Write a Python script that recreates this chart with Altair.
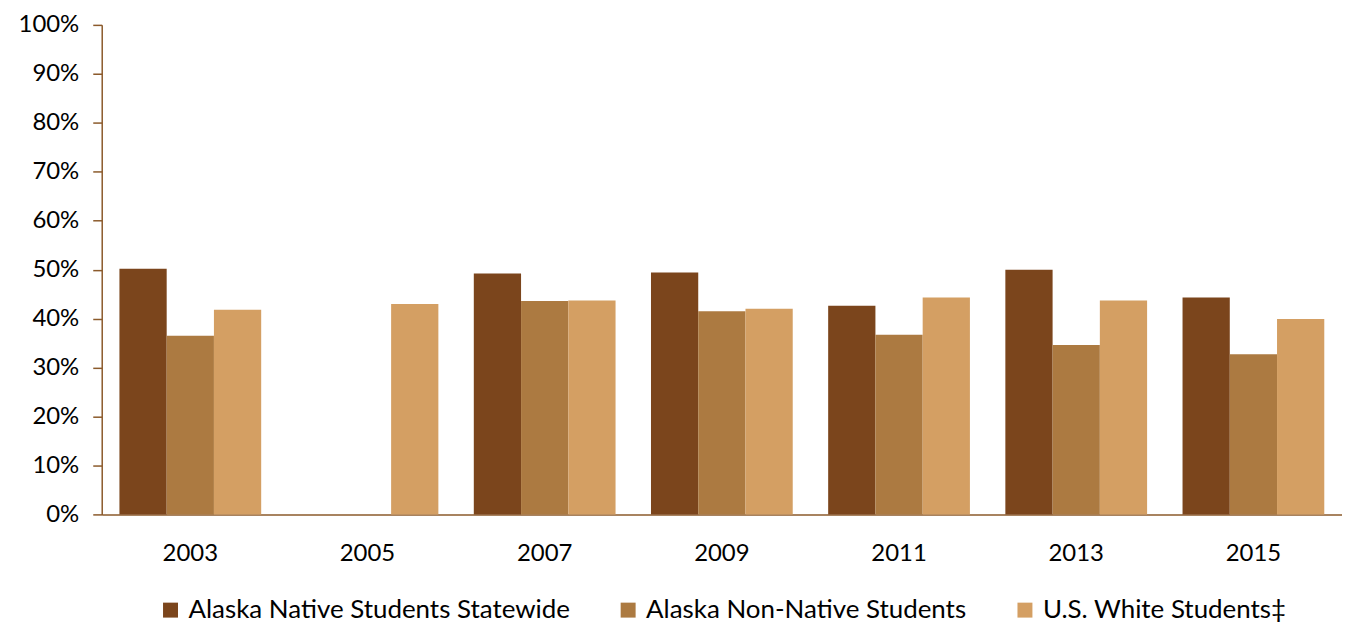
import altair as alt
import pandas as pd

years = ["2003", "2005", "2007", "2009", "2011", "2013", "2015"]
series = ["Alaska Native Students Statewide", "Alaska Non-Native Students", "U.S. White Students‡"]
native = [50.2, None, 49.2, 49.4, 42.6, 50.0, 44.3]
non_native = [36.5, None, 43.6, 41.5, 36.7, 34.6, 32.7]
us_white = [41.8, 43.0, 43.7, 42.0, 44.3, 43.7, 39.9]
colors = ["#7B451C", "#AC7A41", "#D49F63"]
y_ticks = [0, 10, 20, 30, 40, 50, 60, 70, 80, 90, 100]

rows = []
for name, vals in zip(series, [native, non_native, us_white]):
    for yr, v in zip(years, vals):
        if v is not None:
            rows.append({"year": yr, "series": name, "value": v})
df = pd.DataFrame(rows)

FONT = "Lato"
AXIS_COLOR = "#8B5A2B"

chart = alt.Chart(df).mark_bar().encode(
    x=alt.X("year:N", sort=years,
            scale=alt.Scale(domain=years, paddingInner=0.2, paddingOuter=0.1),
            axis=alt.Axis(title=None, labelAngle=0, ticks=False, labelPadding=27,
                          labelFontSize=24, labelFont=FONT, labelColor="#000000",
                          domainColor=AXIS_COLOR, domainWidth=1.5)),
    xOffset=alt.XOffset("series:N", sort=series, scale=alt.Scale(domain=series, paddingInner=0, paddingOuter=0)),
    y=alt.Y("value:Q", scale=alt.Scale(domain=[0, 100], nice=False),
            axis=alt.Axis(title=None, values=y_ticks, labelExpr="datum.value + '%'",
                          grid=False, tickSize=9, tickColor=AXIS_COLOR, tickWidth=1.5,
                          domainColor=AXIS_COLOR, domainWidth=1.5, labelPadding=14,
                          labelFontSize=24, labelFont=FONT, labelColor="#000000")),
    color=alt.Color("series:N", sort=series,
                    scale=alt.Scale(domain=series, range=colors),
                    legend=alt.Legend(title=None, orient="none", direction="horizontal",
                                      legendX=56, legendY=574, symbolType="square",
                                      symbolSize=225, symbolStrokeWidth=0, labelFontSize=26,
                                      labelFont=FONT, labelColor="#000000", labelOffset=5,
                                      labelLimit=0, columnPadding=45, padding=0)),
).properties(
    width=1244, height=491,
    autosize=alt.AutoSizeParams(type="none"),
    padding={"left": 94, "top": 16, "right": 0, "bottom": 110},
).configure_view(stroke=None)

chart.save("out.html", embed_options={"renderer": "svg", "actions": False})
